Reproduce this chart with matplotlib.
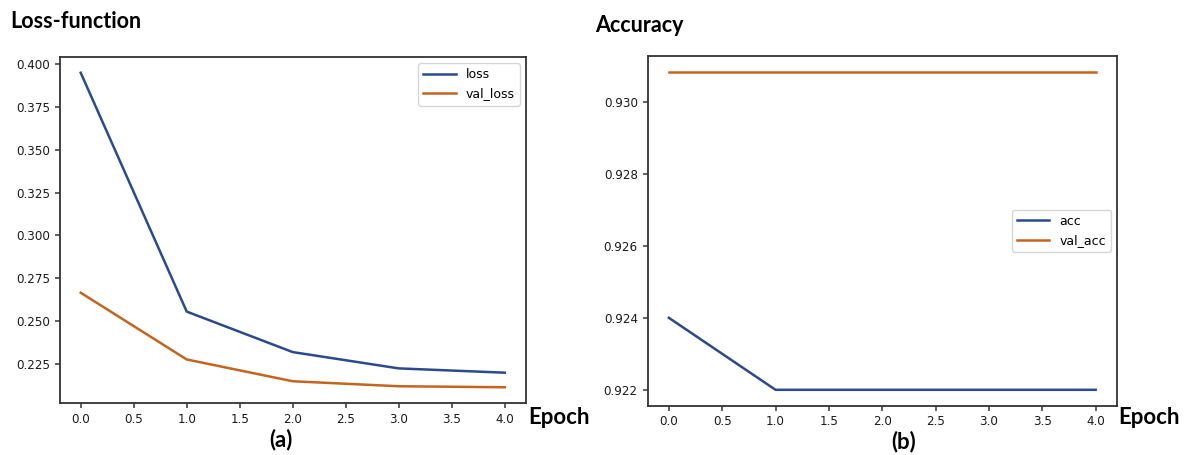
from matplotlib import pyplot as plt

epochs = [0, 1, 2, 3, 4]
loss = [0.3948, 0.2556, 0.2320, 0.2225, 0.2200]
val_loss = [0.2666, 0.2277, 0.2150, 0.2121, 0.2115]
acc = [0.9240, 0.9220, 0.9220, 0.9220, 0.9220]
val_acc = [0.93083, 0.93083, 0.93083, 0.93083, 0.93083]

blue = "#2b4a8c"
orange = "#c4651f"
W, H = 1187, 455

plt.rcParams["font.size"] = 8.6
plt.rcParams["axes.edgecolor"] = "#333333"
plt.rcParams["xtick.color"] = "#333333"
plt.rcParams["ytick.color"] = "#333333"
plt.rcParams["xtick.labelcolor"] = "#1a1a1a"
plt.rcParams["ytick.labelcolor"] = "#1a1a1a"
plt.rcParams["xtick.major.width"] = 1.1
plt.rcParams["ytick.major.width"] = 1.1

fig = plt.figure(figsize=(W / 100, H / 100), dpi=100)

# left panel: loss
ax1 = fig.add_axes([59.5 / W, 1 - 403 / H, (526 - 59.5) / W, (403 - 57) / H])
ax1.plot(epochs, loss, color=blue, lw=1.8, label="loss")
ax1.plot(epochs, val_loss, color=orange, lw=1.8, label="val_loss")
ax1.legend(loc="upper right", fontsize=9, handlelength=2.6)

# right panel: accuracy
ax2 = fig.add_axes([647.5 / W, 1 - 405.7 / H, (1117 - 647.5) / W, (405.7 - 56) / H])
ax2.plot(epochs, acc, color=blue, lw=1.8, label="acc")
ax2.plot(epochs, val_acc, color=orange, lw=1.8, label="val_acc")
ax2.set_yticks([0.922, 0.924, 0.926, 0.928, 0.930])
ax2.legend(loc="center right", fontsize=9, handlelength=2.6)

for ax in (ax1, ax2):
    for s in ax.spines.values():
        s.set_linewidth(1.3)

bold = dict(family="Lato", fontweight="bold", color="black")
fig.text(10 / W, 1 - 21 / H, "Loss-function", fontsize=15.5, va="center", ha="left", **bold)
fig.text(595 / W, 1 - 25 / H, "Accuracy", fontsize=15.5, va="center", ha="left", **bold)
fig.text(528 / W, 1 - 418 / H, "Epoch", fontsize=16, va="center", ha="left", **bold)
fig.text(1118 / W, 1 - 418 / H, "Epoch", fontsize=16, va="center", ha="left", **bold)
fig.text(281 / W, 1 - 440 / H, "(a)", fontsize=16, va="center", ha="center", **bold)
fig.text(904 / W, 1 - 442 / H, "(b)", fontsize=16, va="center", ha="center", **bold)

plt.savefig("out.png", dpi=100)
plt.close()
